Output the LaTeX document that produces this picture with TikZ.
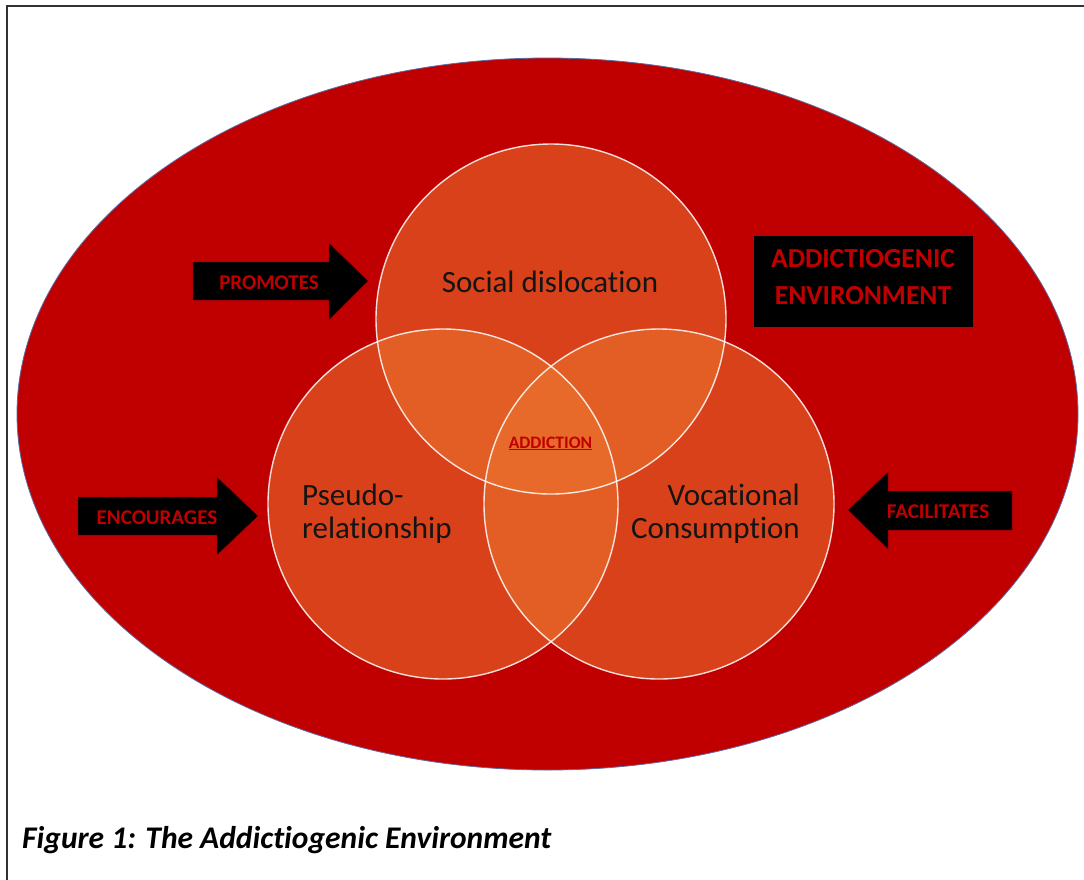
\documentclass[tikz,border=0pt]{standalone}
\usepackage{fontspec}
\setmainfont{Carlito}[Ligatures=NoCommon]
\definecolor{envred}{RGB}{192,0,0}
\definecolor{circfill}{RGB}{236,116,46}
\definecolor{ellline}{RGB}{90,110,165}
\definecolor{framegray}{RGB}{50,50,50}
\definecolor{txtdark}{RGB}{20,20,20}
\tikzset{
  venn/.style={fill=circfill, fill opacity=0.57},
  vennline/.style={draw=white, draw opacity=0.85, line width=1.4pt},
  arrowshape/.style={fill=black, draw=envred!70!black, line width=0.4pt},
  arrowlabel/.style={text=envred, font=\bfseries\fontsize{21}{24}\selectfont, anchor=base, inner sep=0pt},
  circlabel/.style={text=txtdark, font=\fontsize{31}{34}\selectfont, anchor=base, inner sep=0pt},
}
\begin{document}
\begin{tikzpicture}[x=1pt,y=-1pt]
\useasboundingbox (0,0) rectangle (1084,879);
\fill[white] (0,0) rectangle (1084,879);
% frame
\draw[framegray, line width=2.8pt] (7,885) -- (7,6) -- (1090,6);
% environment ellipse
\filldraw[fill=envred, draw=ellline, line width=0.8pt] (547.5,414) ellipse [x radius=530.5, y radius=356];
% venn circles
\fill[venn] (551,319) circle [radius=175];
\fill[venn] (443,504) circle [radius=175];
\fill[venn] (659,504) circle [radius=175];
\draw[vennline] (551,319) circle [radius=175];
\draw[vennline] (443,504) circle [radius=175];
\draw[vennline] (659,504) circle [radius=175];
% circle labels
\node[circlabel] (social) at (550,292) {Social dislocation};
\node[circlabel, anchor=base west] (pseudo) at (302,505) {Pseudo-};
\node[circlabel, anchor=base west] (relation) at (302,538) {relationship};
\node[circlabel, anchor=base east] (vocational) at (800,505) {Vocational};
\node[circlabel, anchor=base east] (consumption) at (800,538) {Consumption};
\node[text=envred, font=\bfseries\fontsize{17.5}{20}\selectfont, anchor=base, inner sep=0pt] (addiction) at (550.5,448) {\underline{ADDICTION}};
% arrows
\filldraw[arrowshape] (193,262) -- (329,262) -- (329,243) -- (368,281) -- (329,320) -- (329,300) -- (193,300) -- cycle;
\node[arrowlabel] (promotes) at (269,289) {PROMOTES};
\filldraw[arrowshape] (78,497) -- (217,497) -- (217,477) -- (258,516) -- (217,555) -- (217,535) -- (78,535) -- cycle;
\node[arrowlabel] (encourages) at (157,524) {ENCOURAGES};
\filldraw[arrowshape] (1012,491) -- (888,491) -- (888,472) -- (848,510) -- (888,549) -- (888,530) -- (1012,530) -- cycle;
\node[arrowlabel] (facilitates) at (938,518) {FACILITATES};
% environment box
\fill[black] (754,236) rectangle (973,327);
\node[text=envred, font=\bfseries\fontsize{27.5}{30}\selectfont, anchor=base, inner sep=0pt] (addict) at (863,267) {ADDICTIOGENIC};
\node[text=envred, font=\bfseries\fontsize{27.5}{30}\selectfont, anchor=base, inner sep=0pt] (environ) at (863,304) {ENVIRONMENT};
% caption
\node[text=black, font=\bfseries\itshape\fontsize{31.5}{34}\selectfont, anchor=base west, inner sep=0pt] (caption) at (22,848) {Figure 1: The Addictiogenic Environment};
\end{tikzpicture}
\end{document}
